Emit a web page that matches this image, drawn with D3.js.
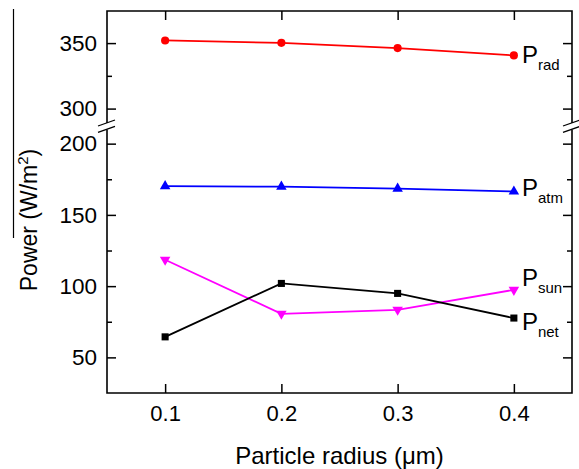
<!DOCTYPE html>
<html>
<head>
<meta charset="utf-8">
<script src="https://cdn.jsdelivr.net/npm/d3@7"></script>
<style>
  body { margin: 0; background: #fff; }
  text { font-family: "Liberation Sans", Arial, sans-serif; fill: #000; }
</style>
</head>
<body>
<svg id="chart" width="579" height="469"></svg>
<script>
// values
const radius = [0.1, 0.2, 0.3, 0.4];
const pRad = [352.0, 350.2, 346.2, 340.6];
const pAtm = [170.2, 169.8, 168.4, 166.4];
const pSun = [118.5, 80.6, 83.4, 97.4];
const pNet = [64.4, 101.9, 94.9, 77.6];

const xTicks = [0.1, 0.2, 0.3, 0.4];
const upperTicks = [300, 350];
const upperMinor = [325];
const lowerTicks = [50, 100, 150, 200];
const lowerMinor = [75, 125, 175];

const width = 579;
const height = 469;
const margin = { top: 11, right: 7, bottom: 76, left: 107 };
const gapTop = 123;     // end of upper panel
const gapBottom = 129.4; // start of lower panel

const series = [
  { name: 'rad', values: pRad, color: '#ff0000', symbol: d3.symbolCircle, size: 52, rot: 0, panel: 'upper', dy: 8 },
  { name: 'atm', values: pAtm, color: '#0000ff', symbol: d3.symbolTriangle, size: 48, rot: 0, panel: 'lower', dy: 4 },
  { name: 'sun', values: pSun, color: '#ff00ff', symbol: d3.symbolTriangle, size: 48, rot: 180, panel: 'lower', dy: -4 },
  { name: 'net', values: pNet, color: '#000000', symbol: d3.symbolSquare, size: 50, rot: 0, panel: 'lower', dy: 12 }
];

const svg = d3.select('#chart');
const x0 = margin.left;
const x1 = width - margin.right;
const yB = height - margin.bottom;

const x = d3.scaleLinear()
            .domain([0.05, 0.45])
            .range([x0, x1]);

const yUpper = d3.scaleLinear()
                 .domain([289, 374.5])
                 .range([gapTop, margin.top]);

const yLower = d3.scaleLinear()
                 .domain([25, 210])
                 .range([yB, gapBottom]);

const scaleFor = p => p === 'upper' ? yUpper : yLower;

// frame (broken at the gap on both sides)
const frame = svg.append('g')
                 .attr('stroke', '#000')
                 .attr('stroke-width', 1.6)
                 .attr('fill', 'none');

frame.append('path')
     .attr('d', `M${x0},${gapTop}V${margin.top}H${x1}V${gapTop}`);
frame.append('path')
     .attr('d', `M${x0},${gapBottom}V${yB}H${x1}V${gapBottom}`);

// break marks
[x0, x1].forEach(xx => {
  [gapTop, gapBottom].forEach(yy => {
    frame.append('line')
         .attr('x1', xx - 9).attr('y1', yy + 3)
         .attr('x2', xx + 8).attr('y2', yy - 3)
         .attr('stroke-width', 1.3);
  });
});

// y axes, ticks inward
function yAxes(scale, major, minor) {
  const left = svg.append('g')
                  .attr('transform', `translate(${x0},0)`)
                  .call(d3.axisLeft(scale)
                          .tickValues(major)
                          .tickSize(-9)
                          .tickPadding(10)
                          .tickSizeOuter(0));
  left.call(g => g.select('.domain').remove());
  left.selectAll('text')
      .style('font-size', '22.5px')
      .style('font-family', '"Liberation Sans", Arial, sans-serif');
  left.selectAll('line').attr('stroke-width', 1.5);

  svg.append('g')
     .attr('transform', `translate(${x0},0)`)
     .call(d3.axisLeft(scale).tickValues(minor).tickSize(-5).tickFormat(''))
     .call(g => g.select('.domain').remove())
     .selectAll('line').attr('stroke-width', 1.5);

  svg.append('g')
     .attr('transform', `translate(${x1},0)`)
     .call(d3.axisRight(scale).tickValues(major).tickSize(-9).tickFormat(''))
     .call(g => g.select('.domain').remove())
     .selectAll('line').attr('stroke-width', 1.5);

  svg.append('g')
     .attr('transform', `translate(${x1},0)`)
     .call(d3.axisRight(scale).tickValues(minor).tickSize(-5).tickFormat(''))
     .call(g => g.select('.domain').remove())
     .selectAll('line').attr('stroke-width', 1.5);
}

yAxes(yUpper, upperTicks, upperMinor);
yAxes(yLower, lowerTicks, lowerMinor);

// x axes
const bottom = svg.append('g')
                  .attr('transform', `translate(0,${yB})`)
                  .call(d3.axisBottom(x)
                          .tickValues(xTicks)
                          .tickSize(-9)
                          .tickPadding(12)
                          .tickFormat(d3.format('.1f')));
bottom.call(g => g.select('.domain').remove());
bottom.selectAll('text')
      .style('font-size', '22px')
      .style('font-family', '"Liberation Sans", Arial, sans-serif');
bottom.selectAll('line').attr('stroke-width', 1.5);

svg.append('g')
   .attr('transform', `translate(0,${margin.top})`)
   .call(d3.axisTop(x).tickValues(xTicks).tickSize(-9).tickFormat(''))
   .call(g => g.select('.domain').remove())
   .selectAll('line').attr('stroke-width', 1.5);

// series lines and markers
series.forEach(s => {
  const y = scaleFor(s.panel);
  const pts = radius.map((r, i) => [x(r), y(s.values[i])]);

  svg.append('path')
     .attr('d', d3.line()(pts))
     .attr('fill', 'none')
     .attr('stroke', s.color)
     .attr('stroke-width', 1.8);

  svg.append('g')
     .selectAll('path')
     .data(pts)
     .enter()
     .append('path')
     .attr('d', d3.symbol().type(s.symbol).size(s.size))
     .attr('transform', d => `translate(${d[0]},${d[1]}) rotate(${s.rot})`)
     .attr('fill', s.color);

  const last = pts[pts.length - 1];
  const label = svg.append('text')
                   .attr('x', last[0] + 8)
                   .attr('y', last[1] + s.dy)
                   .style('font-size', '24px')
                   .text('P');
  label.append('tspan')
       .attr('dy', 7)
       .style('font-size', '15px')
       .text(s.name);
});

// axis titles
svg.append('text')
   .attr('x', (x0 + x1) / 2)
   .attr('y', 464)
   .attr('text-anchor', 'middle')
   .style('font-size', '24px')
   .text('Particle radius (\u03bcm)');

const yTitle = svg.append('text')
                  .attr('transform', 'translate(37,220) rotate(-90)')
                  .attr('text-anchor', 'middle')
                  .style('font-size', '23px')
                  .text('Power (W/m');
yTitle.append('tspan')
      .attr('dy', -9)
      .style('font-size', '15px')
      .text('2');
yTitle.append('tspan')
      .attr('dy', 9)
      .text(')');

// stray rule at the far left
svg.append('line')
   .attr('x1', 13.5).attr('y1', 9)
   .attr('x2', 13.5).attr('y2', 238)
   .attr('stroke', '#000')
   .attr('stroke-width', 1.2);
</script>
</body>
</html>
